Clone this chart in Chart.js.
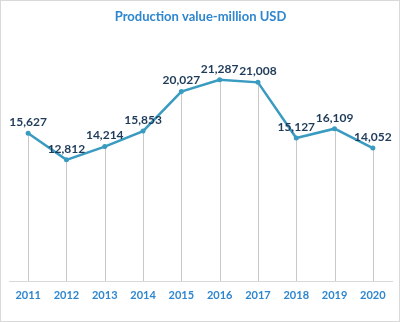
<!DOCTYPE html>
<html>
<head>
<meta charset="utf-8">
<script src="https://cdn.jsdelivr.net/npm/chart.js@4"></script>
<style>
  html, body { margin: 0; padding: 0; background: #fff; }
  #wrap { width: 398px; height: 320px; border: 1px solid #d9d9d9; }
</style>
</head>
<body>
<div id="wrap"><canvas id="prodChart" width="398" height="320"></canvas></div>
<script>
var years = ['2011', '2012', '2013', '2014', '2015', '2016', '2017', '2018', '2019', '2020'];
var values = [15627, 12812, 14214, 15853, 20027, 21287, 21008, 15127, 16109, 14052];

// drop lines from each point down to the x axis
var dropLines = {
    id: 'dropLines',
    beforeDatasetsDraw: function(chart) {
        var ctx = chart.ctx;
        var base = chart.scales.y.getPixelForValue(0);
        ctx.save();
        ctx.strokeStyle = '#c8c8c8';
        ctx.lineWidth = 1;
        chart.getDatasetMeta(0).data.forEach(function(pt) {
            var x = Math.round(pt.x) + 0.5;
            ctx.beginPath();
            ctx.moveTo(x, pt.y);
            ctx.lineTo(x, base);
            ctx.stroke();
        });
        ctx.restore();
    }
};

// value labels above points
var valueLabels = {
    id: 'valueLabels',
    afterDatasetsDraw: function(chart) {
        var ctx = chart.ctx;
        ctx.save();
        ctx.font = 'bold 12px Lato';
        ctx.fillStyle = '#1f3b5a';
        ctx.textAlign = 'center';
        ctx.textBaseline = 'bottom';
        chart.getDatasetMeta(0).data.forEach(function(pt, i) {
            ctx.fillText(values[i].toLocaleString('en-US'), pt.x, pt.y - 5);
        });
        ctx.restore();
    }
};

var ctx = document.getElementById('prodChart').getContext('2d');
var myChart = new Chart(ctx, {
    type: 'line',
    data: {
        labels: years,
        datasets: [{
            data: values,
            borderColor: '#3a9bc1',
            backgroundColor: '#3a9bc1',
            borderWidth: 2.5,
            pointRadius: 2.5,
            pointBorderWidth: 0,
            tension: 0
        }]
    },
    options: {
        responsive: false,
        animation: false,
        layout: { padding: { left: 8, right: 7, top: 0, bottom: 10 } },
        plugins: {
            legend: { display: false },
            tooltip: { enabled: false },
            title: {
                display: true,
                text: 'Production value-million USD',
                color: '#2e86cf',
                font: { family: 'Lato', size: 13, weight: 'bold' },
                padding: { top: 8, bottom: 20 }
            }
        },
        scales: {
            x: {
                offset: true,
                grid: { display: false, drawTicks: false },
                border: { display: true, color: '#d9d9d9', width: 1 },
                ticks: {
                    color: '#2e86cf',
                    font: { family: 'Lato', size: 11, weight: 'bold' },
                    padding: 8,
                    maxRotation: 0
                },
                afterFit: function(scale) { scale.height = 30; }
            },
            y: {
                display: false,
                min: 0,
                max: 25000
            }
        }
    },
    plugins: [dropLines, valueLabels]
});
</script>
</body>
</html>
